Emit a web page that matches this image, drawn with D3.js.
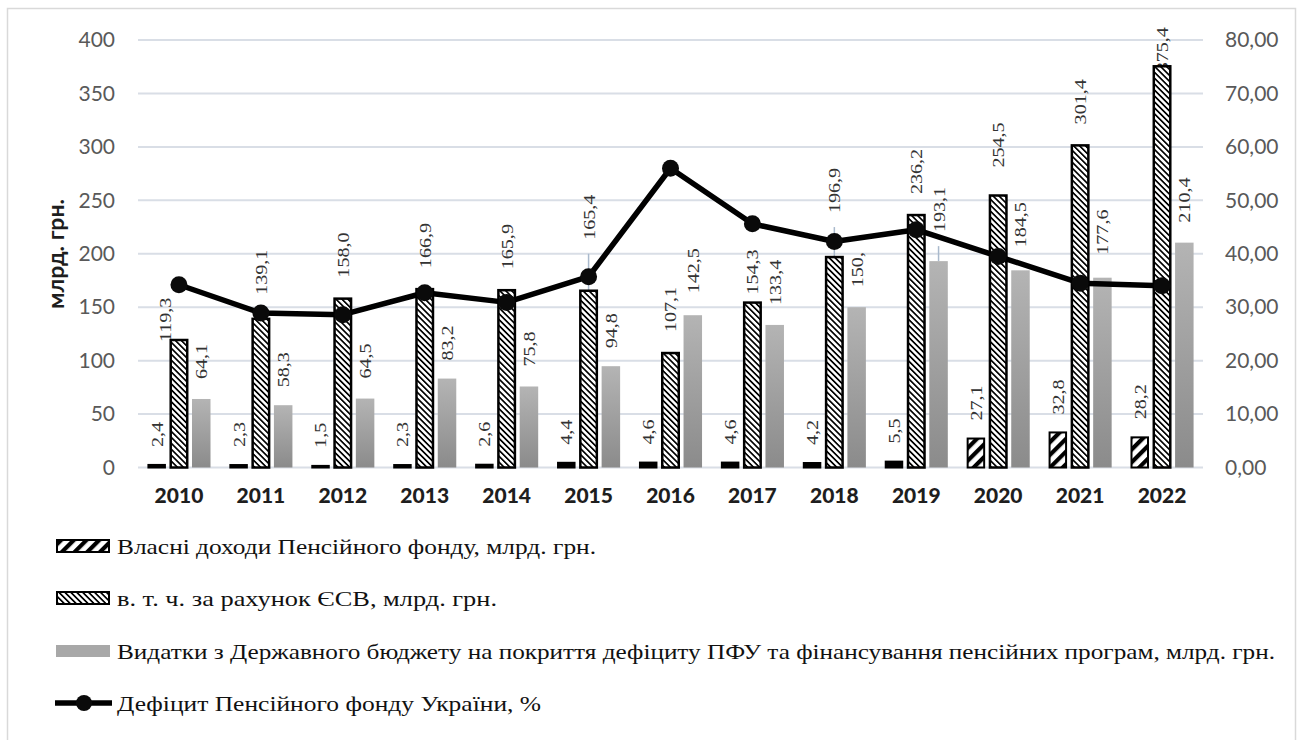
<!DOCTYPE html>
<html><head><meta charset="utf-8">
<script src="https://cdn.jsdelivr.net/npm/d3@7"></script>
<style>body{margin:0;background:#fff} svg{display:block}
.serif{font-family:"Liberation Serif","Times New Roman",Tinos,"DejaVu Serif","Noto Serif",serif}
</style>
</head><body>
<svg id="c" width="1298" height="740"></svg>
<script>
// ---------- data ----------
const years = ["2010","2011","2012","2013","2014","2015","2016","2017","2018","2019","2020","2021","2022"];
const ownIncome = [2.4,2.3,1.5,2.3,2.6,4.4,4.6,4.6,4.2,5.5,27.1,32.8,28.2];
const esvIncome = [119.3,139.1,158.0,166.9,165.9,165.4,107.1,154.3,196.9,236.2,254.5,301.4,375.4];
const budgetSpending = [64.1,58.3,64.5,83.2,75.8,94.8,142.5,133.4,150.0,193.1,184.5,177.6,210.4];
const deficitPct = [34.2,28.9,28.6,32.7,30.9,35.7,56.0,45.6,42.3,44.5,39.5,34.5,34.0];
const leftTicks = [0,50,100,150,200,250,300,350,400];
const rightTicks = [0,10,20,30,40,50,60,70,80];
const seriesNames = [
  "Власні доходи Пенсійного фонду, млрд. грн.",
  "в. т. ч. за рахунок ЄСВ, млрд. грн.",
  "Видатки з Державного бюджету на покриття дефіциту ПФУ та фінансування пенсійних програм, млрд. грн.",
  "Дефіцит Пенсійного фонду України, %"
];
const yAxisTitle = "млрд. грн.";
const labelTextOverride = {"budget-2018": "150,"};

// ---------- style / layout ----------
const labelGapDefault = {own: 18, esv: 21, budget: 20};
const labelNudge = {
  "esv-2010": {dx: -14, gap: -2},
  "esv-2011": {gap: 24},
  "esv-2015": {gap: 51, leader: true},
  "esv-2017": {gap: 8},
  "esv-2018": {gap: 44, leader: true},
  "esv-2020": {gap: 28},
  "esv-2022": {gap: -6},
  "budget-2011": {gap: 18},
  "budget-2013": {gap: 18},
  "budget-2015": {gap: 18},
  "budget-2016": {gap: 22},
  "budget-2019": {gap: 29, leader: true},
  "budget-2020": {gap: 23},
  "budget-2021": {gap: 23}
};

const svg = d3.select("#c");
const plot = {left: 138, right: 1203, top: 40, bottom: 467.5};

const defs = svg.append("defs");
const pOwn = defs.append("pattern").attr("id","pOwn").attr("patternUnits","userSpaceOnUse")
  .attr("width",9).attr("height",9).attr("patternTransform","rotate(45)");
pOwn.append("rect").attr("width",9).attr("height",9).attr("fill","#fff");
pOwn.append("rect").attr("width",4.2).attr("height",9).attr("fill","#000");
const pEsv = defs.append("pattern").attr("id","pEsv").attr("patternUnits","userSpaceOnUse")
  .attr("width",4.2).attr("height",4.2).attr("patternTransform","rotate(-45)");
pEsv.append("rect").attr("width",4.2).attr("height",4.2).attr("fill","#fff");
pEsv.append("rect").attr("width",1.7).attr("height",4.2).attr("fill","#000");
const g1 = defs.append("linearGradient").attr("id","gGray").attr("x1",0).attr("y1",0).attr("x2",0).attr("y2",1);
g1.append("stop").attr("offset","0%").attr("stop-color","#b4b4b4");
g1.append("stop").attr("offset","100%").attr("stop-color","#8b8b8b");
defs.append("clipPath").attr("id","clipTop").append("rect").attr("x",0).attr("y",19).attr("width",1298).attr("height",721);

// frame
svg.append("rect").attr("x",7.5).attr("y",8.5).attr("width",1288).attr("height",800)
  .attr("fill","#fff").attr("stroke","#d9d9d9").attr("stroke-width",1.5);

const x0 = d3.scaleBand().domain(years).range([plot.left, plot.right]).paddingInner(0.23).paddingOuter(0.115);
const keys = ["own","esv","budget"];
const x1 = d3.scaleBand().domain(keys).range([0, x0.bandwidth()]).paddingInner(0.17);
const y = d3.scaleLinear().domain([0,400]).range([plot.bottom, plot.top]);
const yR = d3.scaleLinear().domain([0,80]).range([plot.bottom, plot.top]);

const comma = f => v => d3.format(f)(v).replace(".", ",");

// grid
svg.append("g").selectAll("line").data(leftTicks).join("line")
  .attr("x1",plot.left).attr("x2",plot.right)
  .attr("y1",d=>y(d)).attr("y2",d=>y(d))
  .attr("stroke","#d9dee6").attr("stroke-width",2);

// left axis
const axL = svg.append("g").attr("transform",`translate(${plot.left-23},0)`)
  .call(d3.axisLeft(y).tickValues(leftTicks).tickSize(0).tickPadding(0).tickFormat(d3.format("d")));
axL.select(".domain").remove();
axL.selectAll("text").attr("font-family","Lato").attr("font-size",21).attr("fill","#595959");

// right axis
const axR = svg.append("g").attr("transform",`translate(${plot.right+22},0)`)
  .call(d3.axisRight(yR).tickValues(rightTicks).tickSize(0).tickPadding(0).tickFormat(comma(".2f")));
axR.select(".domain").remove();
axR.selectAll("text").attr("font-family","Lato").attr("font-size",21).attr("fill","#595959");

// x axis (years)
const axB = svg.append("g").attr("transform",`translate(0,${plot.bottom+25})`)
  .call(d3.axisBottom(x0).tickSize(0).tickPadding(0));
axB.select(".domain").remove();
axB.selectAll("text").attr("font-family","Lato").attr("font-size",21).attr("font-weight","900")
  .attr("fill","#1e1e1e").attr("dy","0.5em");

// y title
svg.append("text").attr("transform","translate(56,254) rotate(-90)")
  .attr("text-anchor","middle").attr("dy","0.35em")
  .attr("font-family","Lato").attr("font-weight","bold").attr("font-size",23).attr("fill","#1e1e1e")
  .text(yAxisTitle);

// build bar records
const seriesVals = {own: ownIncome, esv: esvIncome, budget: budgetSpending};
const recs = [];
years.forEach((yr,i) => keys.forEach(k => recs.push({year: yr, key: k, value: seriesVals[k][i]})));
const barX = d => x0(d.year) + x1(d.key);
const barCx = d => barX(d) + x1.bandwidth()/2;

// labels (drawn beneath bars)
const lblG = svg.append("g").attr("clip-path","url(#clipTop)");
recs.forEach(d => {
  const id = d.key + "-" + d.year;
  const nd = labelNudge[id] || {};
  const gap = nd.gap !== undefined ? nd.gap : labelGapDefault[d.key];
  const dx = nd.dx || 0;
  const top = y(d.value);
  const ly = top - gap;
  const txt = labelTextOverride[id] || comma(".1f")(d.value);
  lblG.append("text").attr("class","serif")
    .attr("transform",`translate(${barCx(d)+dx},${ly}) rotate(-90) scale(1.18,1)`)
    .attr("dy","0.35em").attr("text-anchor","start")
    .attr("font-size",17).attr("fill","#333")
    .text(txt);
  if (nd.leader) {
    svg.append("line").attr("x1",barCx(d)).attr("x2",barCx(d))
      .attr("y1",ly+14).attr("y2",top)
      .attr("stroke","#a9b9cc").attr("stroke-width",1.5);
  }
});

// bars
const fills = {own: "url(#pOwn)", esv: "url(#pEsv)", budget: "url(#gGray)"};
svg.append("g").selectAll("rect").data(recs).join("rect")
  .attr("x", d => barX(d) + (d.key==="budget"?0:1))
  .attr("width", d => x1.bandwidth() - (d.key==="budget"?0:2))
  .attr("y", d => y(d.value))
  .attr("height", d => y(0) - y(d.value))
  .attr("fill", d => d.value < 8 ? "#000" : fills[d.key])
  .attr("stroke", d => d.key==="budget" ? "none" : "#000")
  .attr("stroke-width", d => d.key==="own" ? 2 : 2.5);

// line
const lineData = years.map((yr,i) => ({year: yr, v: deficitPct[i]}));
const cx = d => x0(d.year) + x0.bandwidth()/2;
svg.append("path").datum(lineData)
  .attr("d", d3.line().x(cx).y(d => yR(d.v)))
  .attr("fill","none").attr("stroke","#000").attr("stroke-width",5.5).attr("stroke-linejoin","round");
svg.append("g").selectAll("circle").data(lineData).join("circle")
  .attr("cx",cx).attr("cy",d=>yR(d.v)).attr("r",8.5).attr("fill","#0a0a0a");

// legend
const legRows = [546, 598, 651, 703];
const legEnds = [596, 497, 1275, 541];
const leg = svg.append("g");
[0,1,2,3].forEach(i => {
  const cy = legRows[i];
  if (i < 2) {
    leg.append("rect").attr("x",57).attr("y",cy-6).attr("width",52).attr("height",12)
      .attr("fill", i===0 ? "url(#pOwn)" : "url(#pEsv)").attr("stroke","#000").attr("stroke-width",2);
  } else if (i === 2) {
    leg.append("rect").attr("x",56).attr("y",cy-6).attr("width",54).attr("height",12).attr("fill","#a8a8a8");
  } else {
    leg.append("line").attr("x1",55).attr("x2",112).attr("y1",cy).attr("y2",cy)
      .attr("stroke","#000").attr("stroke-width",5.5);
    leg.append("circle").attr("cx",84).attr("cy",cy).attr("r",8).attr("fill","#0a0a0a");
  }
  leg.append("text").attr("class","serif").attr("x",117).attr("y",cy).attr("dy","0.35em")
    .attr("font-size",22).attr("fill","#111")
    .attr("textLength", legEnds[i]-117).attr("lengthAdjust","spacingAndGlyphs")
    .text(seriesNames[i]);
});
</script>
</body></html>
